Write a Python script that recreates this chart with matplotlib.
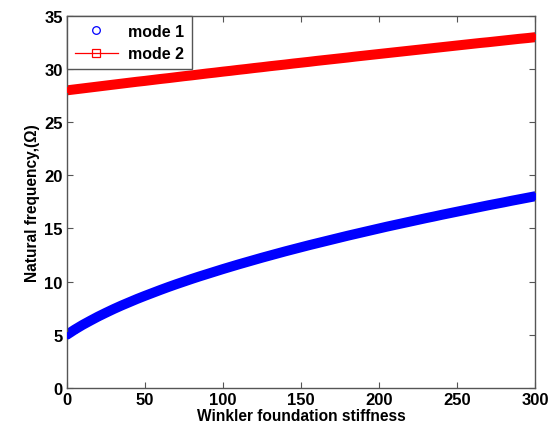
import matplotlib
matplotlib.use("Agg")
import matplotlib.pyplot as plt
from matplotlib.lines import Line2D

stiffness = list(range(0, 301, 5))
mode1 = [5.00, 5.48, 5.92, 6.32, 6.71, 7.07, 7.42, 7.75, 8.06, 8.37,
         8.66, 8.94, 9.22, 9.49, 9.75, 10.00, 10.25, 10.49, 10.72, 10.95,
         11.18, 11.40, 11.62, 11.83, 12.04, 12.25, 12.45, 12.65, 12.85, 13.04,
         13.23, 13.42, 13.60, 13.78, 13.96, 14.14, 14.32, 14.49, 14.66, 14.83,
         15.00, 15.17, 15.33, 15.49, 15.65, 15.81, 15.97, 16.12, 16.28, 16.43,
         16.58, 16.73, 16.88, 17.03, 17.18, 17.32, 17.46, 17.61, 17.75, 17.89,
         18.03]
mode2 = [28.00, 28.09, 28.18, 28.27, 28.36, 28.45, 28.54, 28.63, 28.72, 28.81,
         28.89, 28.98, 29.07, 29.15, 29.24, 29.33, 29.41, 29.50, 29.59, 29.67,
         29.76, 29.84, 29.93, 30.01, 30.10, 30.18, 30.27, 30.35, 30.43, 30.52,
         30.60, 30.68, 30.77, 30.85, 30.93, 31.01, 31.09, 31.18, 31.26, 31.34,
         31.42, 31.50, 31.58, 31.66, 31.74, 31.82, 31.90, 31.98, 32.06, 32.14,
         32.22, 32.30, 32.38, 32.46, 32.53, 32.61, 32.69, 32.77, 32.85, 32.92,
         33.00]
labels = ["mode 1", "mode 2"]
xticks = [0, 50, 100, 150, 200, 250, 300]
yticks = [0, 5, 10, 15, 20, 25, 30, 35]

plt.rcParams['font.family'] = ['Liberation Sans', 'DejaVu Sans']
plt.rcParams['font.weight'] = 'bold'

fig = plt.figure(figsize=(5.57, 4.35), dpi=100)
ax = fig.add_axes([0.120, 0.106, 0.8405, 0.855])

blue = '#0000ff'
red = '#ff0000'
ax.plot(stiffness, mode1, '-', color=blue, lw=7.2, solid_capstyle='round',
        solid_joinstyle='round', zorder=2)
ax.plot(stiffness, mode1, 'o', color=blue, ms=5.0, mfc=blue, mec=blue, mew=0, zorder=3)
ax.plot(stiffness, mode2, '-', color=red, lw=7.2, solid_capstyle='projecting', zorder=2)
ax.plot(stiffness, mode2, 's', color=red, ms=4.5, mfc=red, mec=red, mew=0, zorder=3)

ax.set_xlim(0, 300)
ax.set_ylim(0, 35)
ax.set_xticks(xticks)
ax.set_yticks(yticks)
ax.tick_params(direction='in', top=True, right=True, length=4, width=0.8,
               color='#555555', labelsize=12, pad=3)
for lab in ax.get_xticklabels() + ax.get_yticklabels():
    lab.set_fontweight('bold')
for sp in ax.spines.values():
    sp.set_color('#555555')
    sp.set_linewidth(1.0)

ax.set_xlabel('Winkler foundation stiffness', fontsize=11.2, fontweight='bold', labelpad=1)
ax.set_ylabel('Natural frequency,(Ω)', fontsize=11.2, fontweight='bold', labelpad=3)

handles = [Line2D([], [], ls='none', marker='o', mfc='none', mec=blue, ms=5.5, mew=0.9),
           Line2D([], [], ls='-', color=red, lw=0.9, marker='s', mfc='none', mec=red, ms=5.5, mew=0.9)]
leg = ax.legend(handles, labels, loc='upper left', borderaxespad=0, fancybox=False,
                framealpha=1, edgecolor='#555555', prop={'size': 11.5, 'weight': 'bold'},
                handlelength=2.7, borderpad=0.5, labelspacing=0.45, handletextpad=0.6)
leg.get_frame().set_linewidth(1.0)

fig.savefig('out.png', dpi=100)
